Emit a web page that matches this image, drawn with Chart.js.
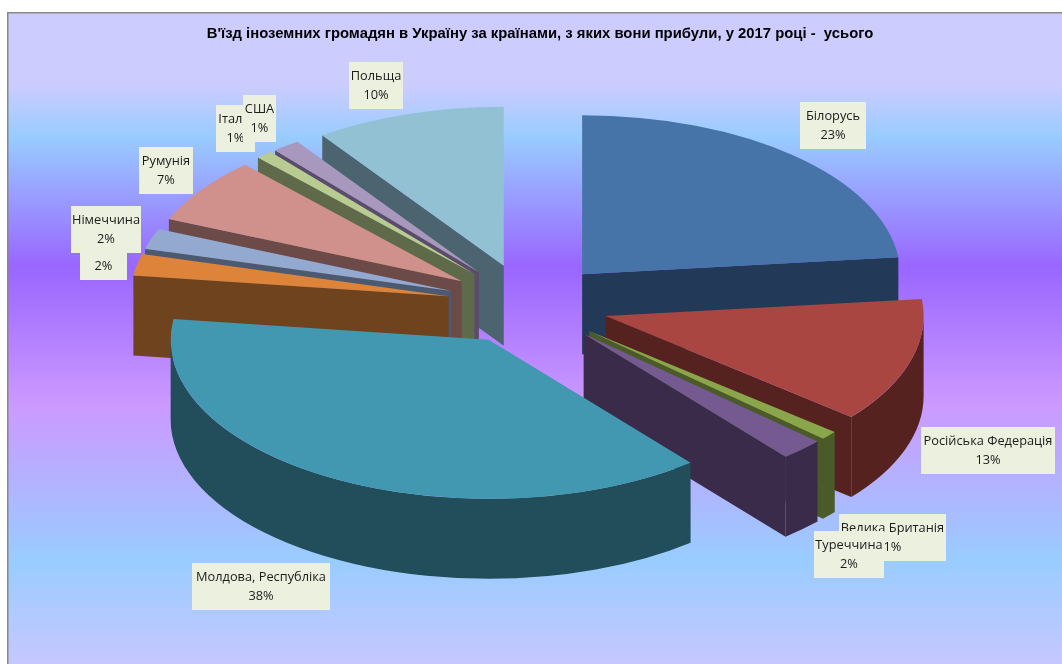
<!DOCTYPE html>
<html>
<head>
<meta charset="utf-8">
<style>
  html, body { margin: 0; padding: 0; background: #fff; }
  canvas { display: block; }
</style>
<script src="https://cdn.jsdelivr.net/npm/chart.js@4"></script>
</head>
<body>
<canvas id="chart" width="1062" height="664"></canvas>
<script>
const titleText = "В'їзд іноземних громадян в Україну за країнами, з яких вони прибули, у 2017 році -  усього";

// the name of the 6th slice is hidden behind the next label, only its tail shows
const countries = ["Білорусь", "Російська Федерація", "Велика Британія", "Туреччина", "Молдова, Республіка", ",", "Німеччина", "Румунія", "Італія", "США", "Польща"];
// labels show them rounded
const shares = [23.3, 12.65, 0.9, 2.2, 38.05, 2.2, 2.08, 6.7, 0.85, 1.4, 9.67];

const topColors = ["#4674a8", "#a94642", "#8aa64b", "#745a90", "#4198b0", "#dd833a", "#94a9d0", "#d0908c", "#b8cc91", "#a998bd", "#92c1d3"];
const sideColors = ["#223a58", "#562220", "#4a5a28", "#3a2b4a", "#214e5a", "#6f431e", "#4b5a70", "#6b4a47", "#5f6a4a", "#5a4c6a", "#4b646f"];

// label boxes, left / top / width
const labelBoxes = [
  [800, 102, 66], [921, 427, 134], [839, 514, 107], [814, 531, 70], [192, 563, 138], [80, 233, 47],
  [71, 206, 70], [139, 147, 54], [216, 105, 39], [243, 95, 33], [349, 62, 54]
];

const tilt = 0.5;      // vertical squash of the pie
const depth = 80;      // height of the walls on screen
const explode = 81;    // how far every slice is pulled out

const pie3d = {
  id: "pie3d",
  beforeDraw(chart) {
    const { ctx, width, height } = chart;
    const g = ctx.createLinearGradient(0, 13, 0, height);
    g.addColorStop(0, "#ccccff");
    g.addColorStop(0.11, "#ccccff");
    g.addColorStop(0.19, "#99ccff");
    g.addColorStop(0.39, "#9966ff");
    g.addColorStop(0.6, "#cc99ff");
    g.addColorStop(0.84, "#99ccff");
    g.addColorStop(1, "#c6c8ff");
    ctx.fillStyle = g;
    ctx.fillRect(8, 13, width - 8, height - 13);
    ctx.fillStyle = "#888888";
    ctx.fillRect(7, 12, width - 7, 1.5);
    ctx.fillRect(7, 12, 1.5, height - 12);
  },
  beforeDatasetsDraw(chart) {
    const { ctx } = chart;
    const arcs = chart.getDatasetMeta(0).data.map((arc, i) => ({ arc, i }));
    const mid = a => (a.arc.startAngle + a.arc.endAngle) / 2;
    // back slices first, the front ones paint over them
    arcs.sort((a, b) => Math.sin(mid(a)) - Math.sin(mid(b)));

    for (const item of arcs) {
      const { arc, i } = item;
      const m = mid(item);
      ctx.save();
      ctx.translate(arc.x, arc.y);
      ctx.scale(1, tilt);
      ctx.translate(Math.cos(m) * explode, Math.sin(m) * explode);
      drawSides(ctx, arc, sideColors[i]);
      ctx.translate(-arc.x, -arc.y);
      arc.draw(ctx);
      ctx.restore();
    }
    return false;
  },
  afterDraw(chart) {
    const { ctx } = chart;
    ctx.font = '12.8px "Open Sans"';
    ctx.textAlign = "center";
    ctx.textBaseline = "middle";
    countries.forEach((name, i) => {
      const [x, y, w] = labelBoxes[i];
      ctx.fillStyle = "#ebf0df";
      ctx.fillRect(x, y, w, 47);
      ctx.fillStyle = "#1c1c1c";
      ctx.fillText(name, x + w / 2, y + 14);
      ctx.fillText(Math.round(shares[i]) + "%", x + w / 2, y + 33);
    });
  }
};

function drawSides(ctx, arc, color) {
  const r = arc.outerRadius;
  const dz = depth / tilt;
  const s = arc.startAngle;
  const e = arc.endAngle;
  ctx.fillStyle = color;

  const face = a => {
    ctx.beginPath();
    ctx.moveTo(0, 0);
    ctx.lineTo(Math.cos(a) * r, Math.sin(a) * r);
    ctx.lineTo(Math.cos(a) * r, Math.sin(a) * r + dz);
    ctx.lineTo(0, dz);
    ctx.closePath();
    ctx.fill();
  };
  if (Math.cos(s) < 0) face(s);
  if (Math.cos(e) > 0) face(e);

  // outer wall, only the part on the front half
  const a0 = Math.max(s, 0);
  const a1 = Math.min(e, Math.PI);
  if (a1 > a0) {
    ctx.beginPath();
    ctx.arc(0, 0, r, a0, a1);
    ctx.arc(0, dz, r, a1, a0, true);
    ctx.closePath();
    ctx.fill();
  }
}

new Chart(document.getElementById("chart"), {
  type: "pie",
  data: {
    labels: countries,
    datasets: [{
      data: shares,
      backgroundColor: topColors,
      borderWidth: 0,
      radius: 318
    }]
  },
  options: {
    responsive: false,
    animation: false,
    layout: { padding: { left: 0, right: 6, top: 0, bottom: 98 } },
    plugins: {
      legend: { display: false },
      tooltip: { enabled: false },
      title: {
        display: true,
        text: titleText,
        color: "#000000",
        font: { family: '"Liberation Sans"', size: 14.85, weight: "bold" },
        padding: { top: 25, bottom: 0 }
      }
    }
  },
  plugins: [pie3d, {
    id: "titleShift",
    afterLayout(chart) {
      // title sits a bit right of the pie centre
      chart.titleBlock.left += 12;
      chart.titleBlock.right += 12;
    }
  }]
});
</script>
</body>
</html>
